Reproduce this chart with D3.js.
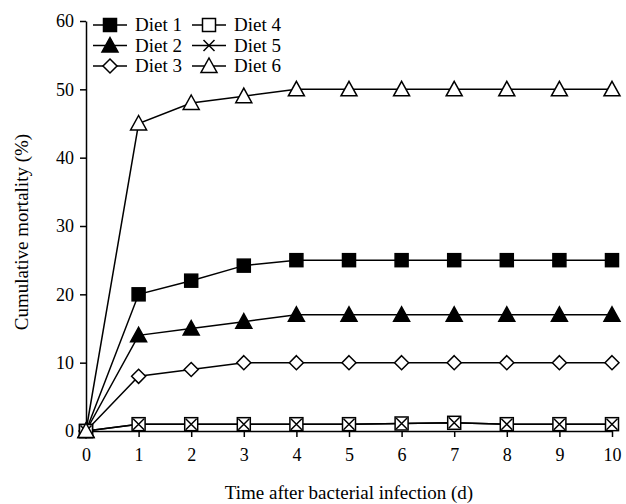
<!DOCTYPE html>
<html>
<head>
<meta charset="utf-8">
<script src="https://cdn.jsdelivr.net/npm/d3@7"></script>
<style>
  body { margin: 0; background: #fff; }
  svg, svg text { font-family: "Liberation Serif", "DejaVu Serif", "Times New Roman", serif; fill: #000; }
</style>
</head>
<body>
<div class="chart"></div>
<script>
// Data
const days = [0, 1, 2, 3, 4, 5, 6, 7, 8, 9, 10];
const diet1 = [0, 20, 22, 24.2, 25, 25, 25, 25, 25, 25, 25];
const diet2 = [0, 14, 15, 16, 17, 17, 17, 17, 17, 17, 17];
const diet3 = [0, 8, 9, 10, 10, 10, 10, 10, 10, 10, 10];
const diet4 = [0, 1, 1, 1, 1, 1, 1.1, 1.2, 1, 1, 1];
const diet5 = [0, 1, 1, 1, 1, 1, 1.1, 1.2, 1, 1, 1];
const diet6 = [0, 45, 48, 49, 50, 50, 50, 50, 50, 50, 50];
const yTicks = [0, 10, 20, 30, 40, 50, 60];

const series = [
  { name: 'Diet 1', values: diet1, marker: 'square', fill: '#000' },
  { name: 'Diet 2', values: diet2, marker: 'triangle', fill: '#000' },
  { name: 'Diet 3', values: diet3, marker: 'diamond', fill: '#fff' },
  { name: 'Diet 4', values: diet4, marker: 'square', fill: '#fff' },
  { name: 'Diet 5', values: diet5, marker: 'cross', fill: 'none' },
  { name: 'Diet 6', values: diet6, marker: 'triangle', fill: '#fff' }
];

const FONT = '"Liberation Serif", "DejaVu Serif", "Times New Roman", serif';

const W = 626, H = 504;
const margin = { top: 21, right: 14, bottom: 73, left: 86 };
const width = W - margin.left - margin.right;
const height = H - margin.top - margin.bottom;

const svg = d3.select('.chart')
  .append('svg')
  .attr('width', W)
  .attr('height', H)
  .style('font-family', FONT);

const g = svg.append('g')
  .attr('transform', `translate(${margin.left},${margin.top})`);

// Scales
const x = d3.scaleLinear().domain([0, 10]).range([0, width]);
const y = d3.scaleLinear().domain([0, 60]).range([height, 0]);

// Axes
const xAxis = g.append('g')
  .attr('transform', `translate(0,${height})`)
  .call(d3.axisBottom(x).tickValues(days).tickSize(6).tickPadding(11).tickSizeOuter(0));
const yAxis = g.append('g')
  .call(d3.axisLeft(y).tickValues(yTicks).tickSize(6).tickPadding(6).tickSizeOuter(0));

[xAxis, yAxis].forEach(a => {
  a.attr('font-family', FONT).attr('font-size', null);
  a.select('.domain').attr('stroke', '#000').attr('stroke-width', 1.5);
  a.selectAll('.tick line').attr('stroke', '#000').attr('stroke-width', 1.5);
  a.selectAll('.tick text').style('font-size', '18px').style('font-family', FONT);
});

// Axis titles
svg.append('text')
  .attr('x', margin.left + width / 2)
  .attr('y', 499)
  .attr('text-anchor', 'middle')
  .style('font-size', '19px')
  .style('font-family', FONT)
  .text('Time after bacterial infection (d)');

svg.append('text')
  .attr('transform', `translate(28,${margin.top + height / 2 + 6}) rotate(-90)`)
  .attr('text-anchor', 'middle')
  .style('font-size', '19px')
  .style('font-family', FONT)
  .text('Cumulative mortality (%)');

// Markers
function drawMarker(sel, type, fill) {
  const s = 6.5;
  if (type === 'square') {
    sel.append('rect').attr('x', -s).attr('y', -s).attr('width', 2 * s).attr('height', 2 * s)
      .attr('fill', fill).attr('stroke', '#000').attr('stroke-width', 1.5);
  } else if (type === 'triangle') {
    sel.append('path').attr('d', 'M0,-8L8,6.5L-8,6.5Z')
      .attr('fill', fill).attr('stroke', '#000').attr('stroke-width', 1.5);
  } else if (type === 'diamond') {
    sel.append('path').attr('d', 'M0,-7L7,0L0,7L-7,0Z')
      .attr('fill', fill).attr('stroke', '#000').attr('stroke-width', 1.5);
  } else if (type === 'cross') {
    sel.append('path').attr('d', 'M-5.5,-5.5L5.5,5.5M-5.5,5.5L5.5,-5.5')
      .attr('fill', 'none').attr('stroke', '#000').attr('stroke-width', 1.5);
  }
}

const line = d3.line().x((d, i) => x(days[i])).y(d => y(d));

// Lines
g.selectAll('.series-line')
  .data(series)
  .enter().append('path')
  .attr('class', 'series-line')
  .attr('d', d => line(d.values))
  .attr('fill', 'none')
  .attr('stroke', '#000')
  .attr('stroke-width', 1.5);

// Points
series.forEach(s => {
  s.values.forEach((v, i) => {
    const m = g.append('g').attr('transform', `translate(${x(days[i])},${y(v)})`);
    drawMarker(m, s.marker, s.fill);
  });
});

// Legend
const legend = svg.append('g').attr('transform', 'translate(93,25)');
series.forEach((s, i) => {
  const col = Math.floor(i / 3), row = i % 3;
  const item = legend.append('g').attr('transform', `translate(${col * 99},${row * 20.5})`);
  item.append('line').attr('x1', 0).attr('x2', 34).attr('y1', 0).attr('y2', 0)
    .attr('stroke', '#000').attr('stroke-width', 1.5);
  const m = item.append('g').attr('transform', 'translate(17,0)');
  drawMarker(m, s.marker, s.fill);
  item.append('text').attr('x', 42).attr('y', 6)
    .style('font-size', '19px').style('font-family', FONT).text(s.name);
});
</script>
</body>
</html>
